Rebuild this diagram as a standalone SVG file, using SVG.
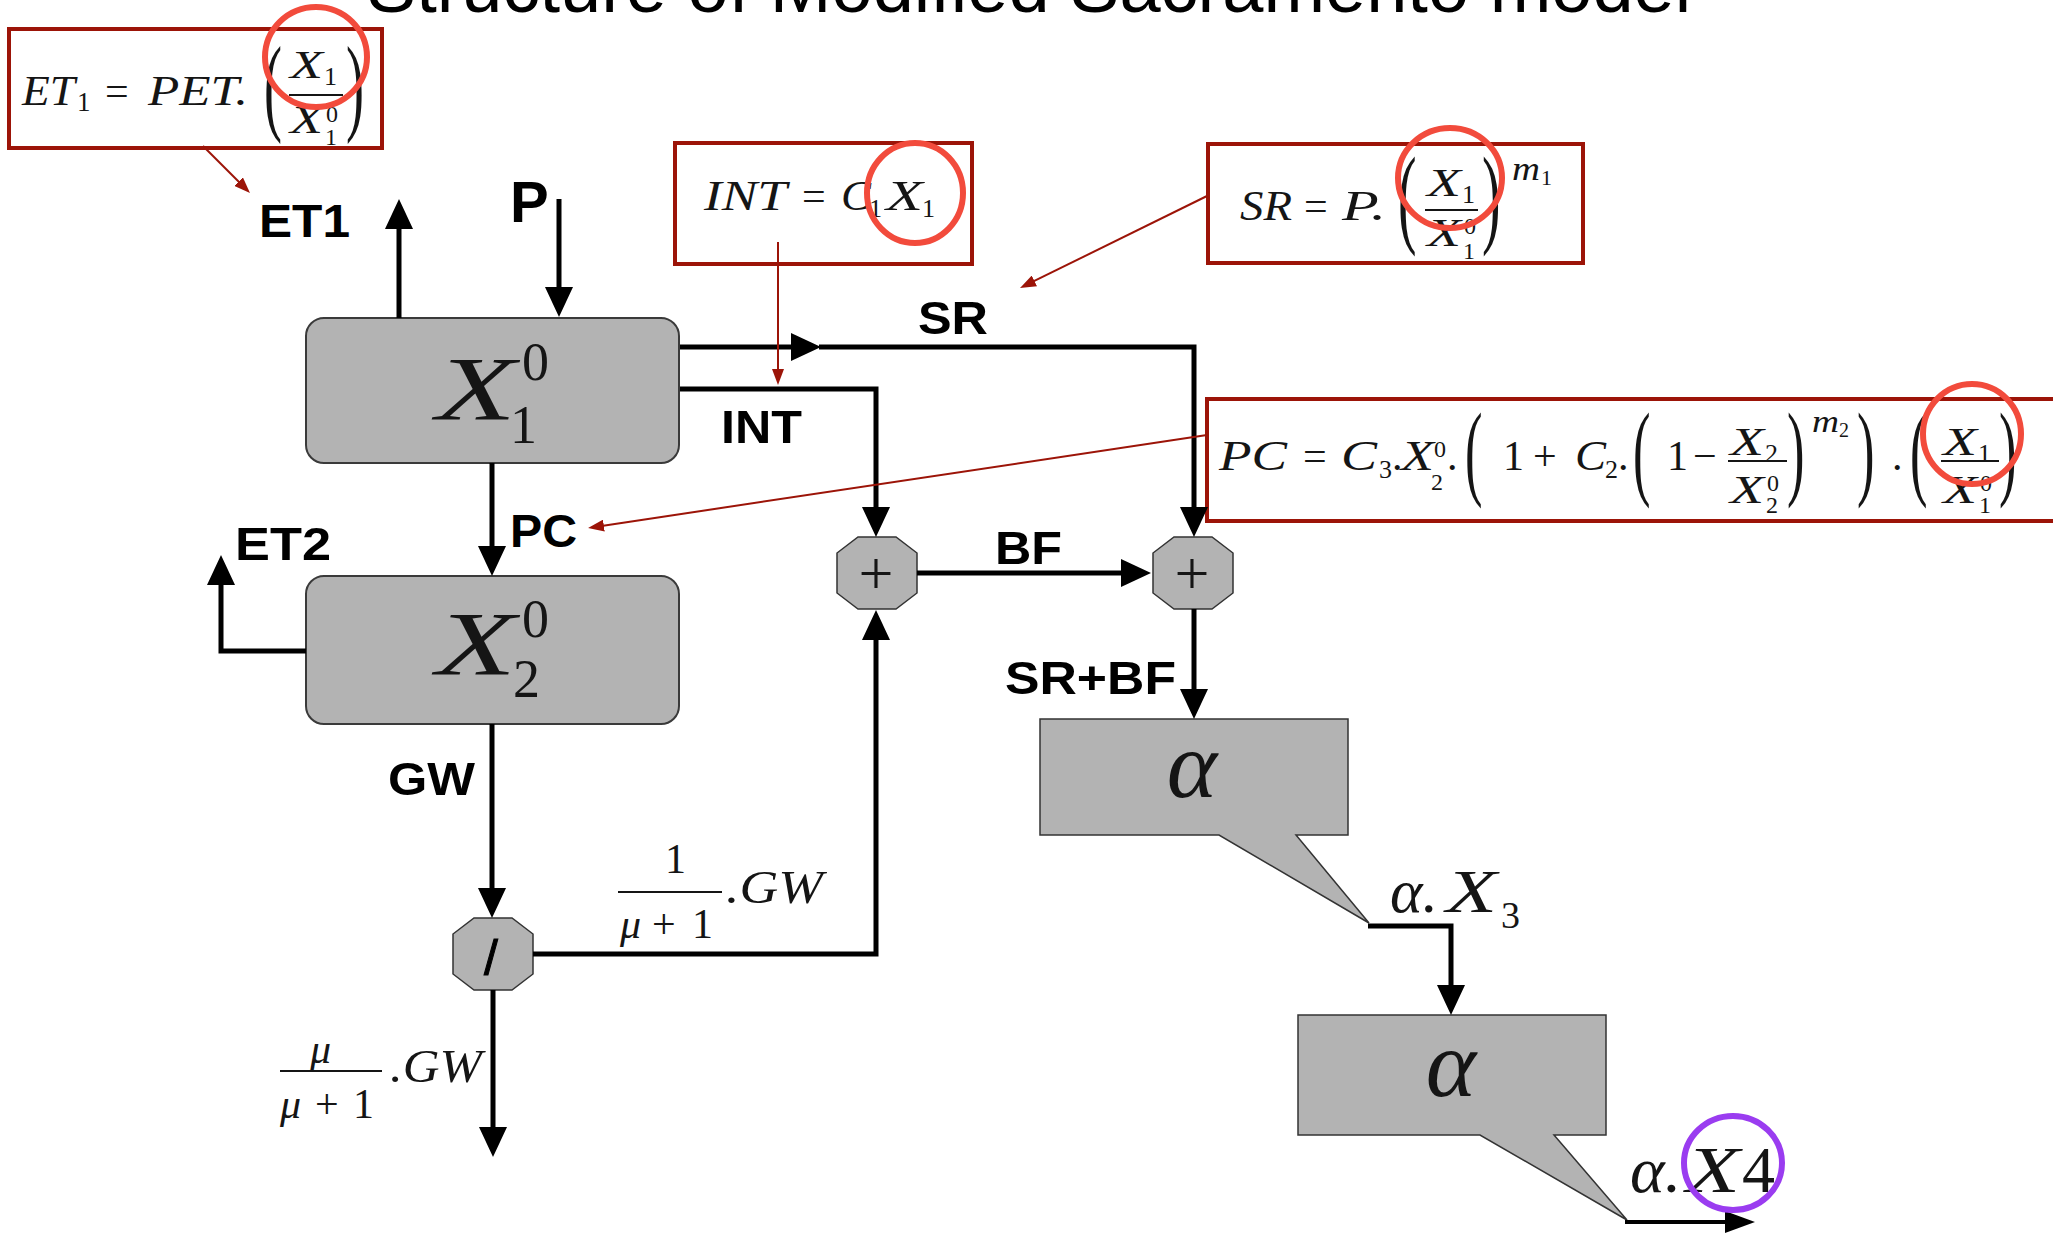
<svg xmlns="http://www.w3.org/2000/svg" width="2053" height="1239" viewBox="0 0 2053 1239">
<style>
.lbl{font-family:"Liberation Sans",Arial,sans-serif;font-weight:bold;font-size:46px;fill:#000}
.mi{font-family:"Liberation Serif","Times New Roman",serif;font-style:italic;fill:#151515}
.mn{font-family:"Liberation Serif","Times New Roman",serif;fill:#151515}
.fbox{fill:#fff;stroke:#9c1408;stroke-width:4}
.box{fill:#b3b3b3;stroke:#3a3a3a;stroke-width:2}
.oct{fill:#b3b3b3;stroke:#333;stroke-width:1.5}
.wire{fill:none;stroke:#000;stroke-width:5}
.rwire{fill:none;stroke:#9c1408;stroke-width:2}
.ring{fill:none;stroke:#f24b3c;stroke-width:6}
.bar{stroke:#151515;stroke-width:2}
</style>
<defs>
<marker id="ah" markerUnits="userSpaceOnUse" markerWidth="30" markerHeight="28" refX="10" refY="14" orient="auto"><path d="M0,0 L30,14 L0,28 Z" fill="#000"/></marker>
<marker id="ahs" markerUnits="userSpaceOnUse" markerWidth="30" markerHeight="22" refX="10" refY="11" orient="auto"><path d="M0,0 L30,11 L0,22 Z" fill="#000"/></marker>
<marker id="rah" markerUnits="userSpaceOnUse" markerWidth="16" markerHeight="12" refX="4" refY="6" orient="auto"><path d="M0,0 L16,6 L0,12 Z" fill="#9c1408"/></marker>
</defs>

<text x="1029" y="12" font-family="Liberation Sans,Arial,sans-serif" font-size="74" text-anchor="middle" fill="#000">Structure of Modified Sacramento model</text>

<!-- formula ET1 -->
<g id="f-et1">
<rect class="fbox" x="9" y="29" width="373" height="119"/>
<text class="mi" x="22" y="105" font-size="42" textLength="53" lengthAdjust="spacingAndGlyphs">ET</text>
<text class="mn" x="77" y="111" font-size="27">1</text>
<text class="mn" x="105" y="105" font-size="42">=</text>
<text class="mi" x="148" y="105" font-size="42" textLength="100" lengthAdjust="spacingAndGlyphs">PET.</text>
<text class="mn" font-size="108" transform="translate(264,121) scale(0.5,1)">(</text>
<text class="mi" x="290" y="78" font-size="40" textLength="33" lengthAdjust="spacingAndGlyphs">X</text>
<text class="mn" x="324" y="85" font-size="26">1</text>
<line class="bar" x1="289" y1="95" x2="343" y2="95"/>
<text class="mi" x="290" y="133" font-size="40" textLength="33" lengthAdjust="spacingAndGlyphs">X</text>
<text class="mn" x="326" y="122" font-size="24">0</text>
<text class="mn" x="325" y="145" font-size="24">1</text>
<text class="mn" font-size="108" transform="translate(346,121) scale(0.5,1)">)</text>
<ellipse class="ring" cx="316" cy="57" rx="51" ry="50"/>
</g>

<!-- formula INT -->
<g id="f-int">
<rect class="fbox" x="675" y="143" width="297" height="121"/>
<text class="mi" x="704" y="210" font-size="42" textLength="83" lengthAdjust="spacingAndGlyphs">INT</text>
<text class="mn" x="802" y="210" font-size="42">=</text>
<text class="mi" x="841" y="210" font-size="42" textLength="30" lengthAdjust="spacingAndGlyphs">C</text>
<text class="mn" x="869" y="217" font-size="26">1</text>
<text class="mi" x="886" y="210" font-size="42" textLength="37" lengthAdjust="spacingAndGlyphs">X</text>
<text class="mn" x="922" y="217" font-size="26">1</text>
<ellipse class="ring" cx="915" cy="193" rx="48" ry="50"/>
</g>

<!-- formula SR -->
<g id="f-sr">
<rect class="fbox" x="1208" y="144" width="375" height="119"/>
<text class="mi" x="1240" y="220" font-size="42" textLength="52" lengthAdjust="spacingAndGlyphs">SR</text>
<text class="mn" x="1304" y="220" font-size="42">=</text>
<text class="mi" x="1342" y="220" font-size="42" textLength="44" lengthAdjust="spacingAndGlyphs">P.</text>
<text class="mn" font-size="111" transform="translate(1398,233) scale(0.5,1)">(</text>
<text class="mi" x="1427" y="196" font-size="40" textLength="34" lengthAdjust="spacingAndGlyphs">X</text>
<text class="mn" x="1462" y="203" font-size="26">1</text>
<line class="bar" x1="1425" y1="210" x2="1478" y2="210"/>
<text class="mi" x="1427" y="246" font-size="40" textLength="34" lengthAdjust="spacingAndGlyphs">X</text>
<text class="mn" x="1464" y="234" font-size="24">0</text>
<text class="mn" x="1463" y="259" font-size="24">1</text>
<text class="mn" font-size="111" transform="translate(1482,233) scale(0.5,1)">)</text>
<text class="mi" x="1512" y="180" font-size="34" textLength="28" lengthAdjust="spacingAndGlyphs">m</text>
<text class="mn" x="1541" y="185" font-size="22">1</text>
<ellipse class="ring" cx="1450" cy="178" rx="52" ry="50"/>
</g>

<!-- formula PC -->
<g id="f-pc">
<rect class="fbox" x="1207" y="399" width="900" height="122"/>
<text class="mi" x="1219" y="470" font-size="42" textLength="68" lengthAdjust="spacingAndGlyphs">PC</text>
<text class="mn" x="1303" y="470" font-size="42">=</text>
<text class="mi" x="1341" y="470" font-size="42" textLength="36" lengthAdjust="spacingAndGlyphs">C</text>
<text class="mn" x="1379" y="478" font-size="26">3</text>
<text class="mn" x="1392" y="470" font-size="42">.</text>
<text class="mi" x="1401" y="470" font-size="42" textLength="33" lengthAdjust="spacingAndGlyphs">X</text>
<text class="mn" x="1434" y="457" font-size="24">0</text>
<text class="mn" x="1431" y="490" font-size="24">2</text>
<text class="mn" x="1447" y="470" font-size="42">.</text>
<text class="mn" font-size="105" transform="translate(1465,486) scale(0.5,1)">(</text>
<text class="mn" x="1503" y="470" font-size="42">1</text>
<text class="mn" x="1533" y="470" font-size="42">+</text>
<text class="mi" x="1575" y="470" font-size="42" textLength="31" lengthAdjust="spacingAndGlyphs">C</text>
<text class="mn" x="1605" y="478" font-size="26">2</text>
<text class="mn" x="1618" y="470" font-size="42">.</text>
<text class="mn" font-size="105" transform="translate(1633,486) scale(0.5,1)">(</text>
<text class="mn" x="1667" y="470" font-size="42">1</text>
<text class="mn" x="1693" y="470" font-size="42">−</text>
<text class="mi" x="1730" y="455" font-size="40" textLength="34" lengthAdjust="spacingAndGlyphs">X</text>
<text class="mn" x="1765" y="462" font-size="26">2</text>
<line class="bar" x1="1728" y1="461" x2="1787" y2="461"/>
<text class="mi" x="1730" y="503" font-size="40" textLength="34" lengthAdjust="spacingAndGlyphs">X</text>
<text class="mn" x="1767" y="491" font-size="24">0</text>
<text class="mn" x="1766" y="513" font-size="24">2</text>
<text class="mn" font-size="105" transform="translate(1787,486) scale(0.5,1)">)</text>
<text class="mi" x="1812" y="432" font-size="32" textLength="27" lengthAdjust="spacingAndGlyphs">m</text>
<text class="mn" x="1839" y="437" font-size="20">2</text>
<text class="mn" font-size="105" transform="translate(1857,486) scale(0.5,1)">)</text>
<text class="mn" x="1892" y="470" font-size="42">.</text>
<text class="mn" font-size="105" transform="translate(1910,486) scale(0.5,1)">(</text>
<text class="mi" x="1943" y="455" font-size="40" textLength="34" lengthAdjust="spacingAndGlyphs">X</text>
<text class="mn" x="1978" y="462" font-size="26">1</text>
<line class="bar" x1="1941" y1="461" x2="1999" y2="461"/>
<text class="mi" x="1943" y="503" font-size="40" textLength="34" lengthAdjust="spacingAndGlyphs">X</text>
<text class="mn" x="1980" y="491" font-size="24">0</text>
<text class="mn" x="1979" y="513" font-size="24">1</text>
<text class="mn" font-size="105" transform="translate(1999,486) scale(0.5,1)">)</text>
<ellipse class="ring" cx="1972" cy="434" rx="49" ry="50"/>
</g>

<!-- store X1 -->
<g id="x1">
<rect class="box" x="306" y="318" width="373" height="145" rx="18"/>
<text class="mi" x="436" y="420" font-size="90" textLength="80" lengthAdjust="spacingAndGlyphs">X</text>
<text class="mn" x="522" y="380" font-size="54">0</text>
<text class="mn" x="510" y="443" font-size="54">1</text>
</g>

<!-- store X2 -->
<g id="x2">
<rect class="box" x="306" y="576" width="373" height="148" rx="18"/>
<text class="mi" x="436" y="675" font-size="90" textLength="80" lengthAdjust="spacingAndGlyphs">X</text>
<text class="mn" x="522" y="637" font-size="54">0</text>
<text class="mn" x="513" y="697" font-size="54">2</text>
</g>

<g id="sum1">
<polygon class="oct" points="858,537 896,537 917,553 917,593 896,609 858,609 837,593 837,553"/>
<text class="mn" x="876" y="594" font-size="62" text-anchor="middle">+</text>
</g>
<g id="sum2">
<polygon class="oct" points="1174,537 1212,537 1233,553 1233,593 1212,609 1174,609 1153,593 1153,553"/>
<text class="mn" x="1192" y="594" font-size="62" text-anchor="middle">+</text>
</g>
<g id="div">
<polygon class="oct" points="474,918 512,918 533,934 533,974 512,990 474,990 453,974 453,934"/>
<text x="491" y="975" font-family="Liberation Sans,Arial,sans-serif" font-size="50" text-anchor="middle" fill="#000" stroke="#000" stroke-width="1">/</text>
</g>

<g id="alpha1">
<path class="oct" d="M1040,719 H1348 V835 H1296 L1369,923 L1219,835 H1040 Z"/>
<text class="mi" x="1192" y="797" font-size="96" text-anchor="middle">α</text>
</g>
<g id="alpha2">
<path class="oct" d="M1298,1015 H1606 V1135 H1554 L1627,1220 L1480,1135 H1298 Z"/>
<text class="mi" x="1451" y="1096" font-size="96" text-anchor="middle">α</text>
</g>

<!-- connectors -->
<g id="connectors">
<path class="wire" d="M399,318 V219" marker-end="url(#ah)"/>
<path class="wire" d="M559,199 V297" marker-end="url(#ah)"/>
<path class="wire" d="M680,347 H801" marker-end="url(#ah)"/>
<path class="wire" d="M819,347 H1194 V517" marker-end="url(#ah)"/>
<path class="wire" d="M680,389 H876 V517" marker-end="url(#ah)"/>
<path class="wire" d="M492,463 V556" marker-end="url(#ah)"/>
<path class="wire" d="M306,651 H221 V575" marker-end="url(#ah)"/>
<path class="wire" d="M492,724 V898" marker-end="url(#ah)"/>
<path class="wire" d="M533,954 H876 V630" marker-end="url(#ah)"/>
<path class="wire" d="M493,990 V1137" marker-end="url(#ah)"/>
<path class="wire" d="M917,573 H1131" marker-end="url(#ah)"/>
<path class="wire" d="M1194,609 V699" marker-end="url(#ah)"/>
<path class="wire" d="M1368,926 H1451 V995" marker-end="url(#ah)"/>
<path class="wire" d="M1625,1222 H1735" style="stroke-width:4px" marker-end="url(#ahs)"/>
<path class="rwire" d="M203,146 L241.5,184.5" marker-end="url(#rah)"/>
<path class="rwire" d="M778,242 V373" marker-end="url(#rah)"/>
<path class="rwire" d="M1207,196 L1030.8,282.7" marker-end="url(#rah)"/>
<path class="rwire" d="M1207,435 L599.9,526.2" marker-end="url(#rah)"/>
</g>

<!-- flow labels -->
<g id="labels">
<text class="lbl" x="259" y="237" textLength="91" lengthAdjust="spacingAndGlyphs">ET1</text>
<text class="lbl" x="510" y="222" style="font-size:58px">P</text>
<text class="lbl" x="918" y="334" textLength="70" lengthAdjust="spacingAndGlyphs">SR</text>
<text class="lbl" x="721" y="443" textLength="81" lengthAdjust="spacingAndGlyphs">INT</text>
<text class="lbl" x="510" y="547" textLength="67" lengthAdjust="spacingAndGlyphs">PC</text>
<text class="lbl" x="235" y="560" textLength="96" lengthAdjust="spacingAndGlyphs">ET2</text>
<text class="lbl" x="388" y="795" textLength="87" lengthAdjust="spacingAndGlyphs">GW</text>
<text class="lbl" x="995" y="564" textLength="67" lengthAdjust="spacingAndGlyphs">BF</text>
<text class="lbl" x="1005" y="694" textLength="171" lengthAdjust="spacingAndGlyphs">SR+BF</text>

<text class="mn" x="665" y="873" font-size="42">1</text>
<line class="bar" x1="618" y1="892" x2="722" y2="892"/>
<text class="mi" x="620" y="938" font-size="42">μ</text>
<text class="mn" x="652" y="938" font-size="42">+</text>
<text class="mn" x="692" y="938" font-size="42">1</text>
<text class="mi" x="726" y="903" font-size="46" textLength="97" lengthAdjust="spacingAndGlyphs">.GW</text>

<text class="mi" x="310" y="1063" font-size="42">μ</text>
<line class="bar" x1="280" y1="1071" x2="382" y2="1071"/>
<text class="mi" x="280" y="1118" font-size="42">μ</text>
<text class="mn" x="315" y="1118" font-size="42">+</text>
<text class="mn" x="353" y="1118" font-size="42">1</text>
<text class="mi" x="390" y="1082" font-size="46" textLength="92" lengthAdjust="spacingAndGlyphs">.GW</text>

<text class="mi" x="1390" y="912" font-size="62">α.</text>
<text class="mi" x="1446" y="912" font-size="62" textLength="51" lengthAdjust="spacingAndGlyphs">X</text>
<text class="mn" x="1501" y="928" font-size="38">3</text>

<text class="mi" x="1630" y="1192" font-size="66">α.</text>
<text class="mi" x="1686" y="1192" font-size="66" textLength="54" lengthAdjust="spacingAndGlyphs">X</text>
<text class="mn" x="1742" y="1192" font-size="66">4</text>
<ellipse cx="1733" cy="1163" rx="49" ry="47" fill="none" stroke="#9a3cf0" stroke-width="6"/>
</g>
</svg>
